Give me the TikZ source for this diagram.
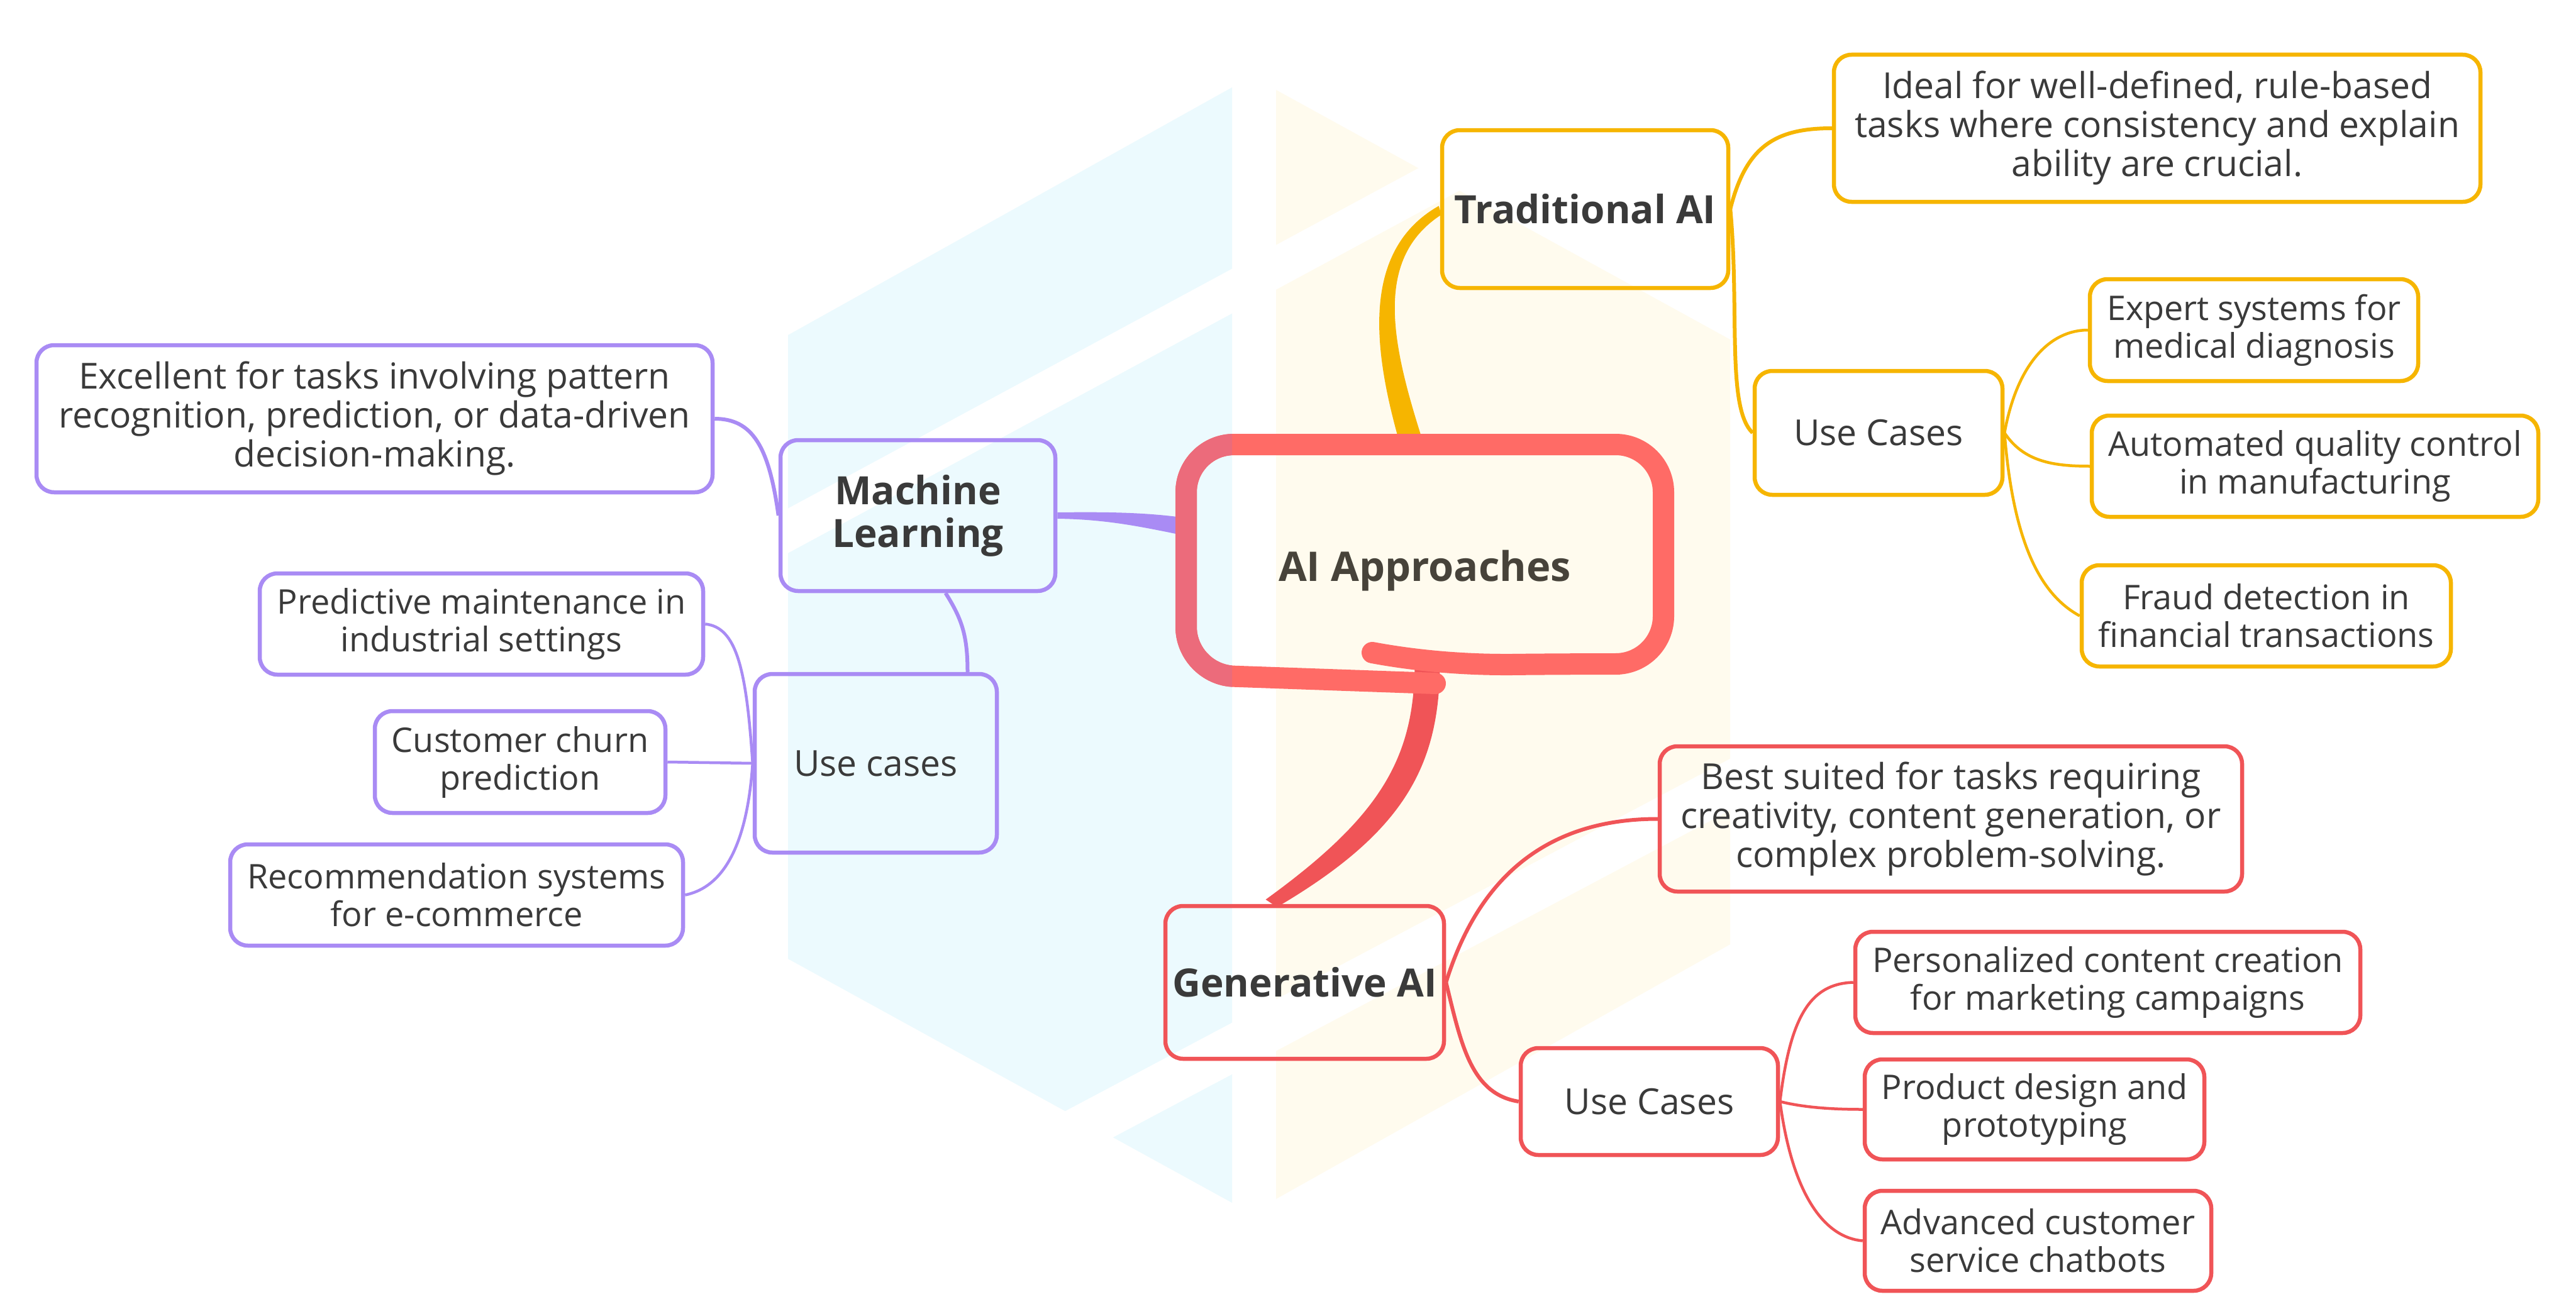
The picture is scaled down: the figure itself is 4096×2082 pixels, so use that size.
\documentclass[tikz,border=0pt]{standalone}
\usepackage{fontspec}
\setmainfont{Open Sans}
\usetikzlibrary{calc}

\definecolor{bgblue}{HTML}{ECFAFE}
\definecolor{bgcream}{HTML}{FFFBEE}
\definecolor{aiyellow}{HTML}{F6B500}
\definecolor{aipurple}{HTML}{A98BF4}
\definecolor{aired}{HTML}{F05457}
\definecolor{rootred}{HTML}{FF6B66}
\definecolor{rootpink}{HTML}{EC6B7B}
\definecolor{ink}{HTML}{3A3A3A}
\definecolor{rootink}{HTML}{47433A}

\begin{document}
\begin{tikzpicture}[x=0.5pt, y=-0.5pt,
    box/.style={draw, rounded corners=14pt, line width=3.25pt, align=center, inner sep=0pt, text=ink},
    topic/.style={box, font=\fontsize{31}{34}\selectfont\bfseries},
    sub/.style={box, font=\fontsize{28.5}{31}\selectfont},
    leaf/.style={box, font=\fontsize{27}{30}\selectfont},
    branch/.style={line width=3pt},
    twig/.style={line width=2.25pt}]
      \useasboundingbox (0,0) rectangle (4096,2082);
      \fill[white] (0,0) rectangle (4096,2082);
      %
      % background hexagon
      \fill[bgblue] (1253,533) -- (1959,139) -- (1959,1913) -- (1253,1525) -- cycle;    % left half
      \fill[bgcream] (2029,143) -- (2751,540) -- (2751,1502) -- (2029,1907) -- cycle;   % right half
      \fill[white] (1245,813) -- (2760,-5) -- (2760,66) -- (1245,884) -- cycle;         % upper stripe
      \fill[white] (1600,1817) -- (2760,1202) -- (2760,1284) -- (1600,1899) -- cycle;   % lower stripe
      %
      \node[font=\fontsize{32.5}{36}\selectfont\bfseries, text=rootink, inner sep=0pt,
            minimum width=379.5pt, minimum height=184pt] (root) at (2265.5,908) {AI Approaches};
      %
      \node[topic, draw=aiyellow, minimum width=227.5pt, minimum height=125.5pt] (trad) at (2520.5,332.5) {Traditional AI};
      \node[topic, draw=aipurple, minimum width=218.5pt, minimum height=120pt] (ml) at (1459.5,820) {Machine\\Learning};
      \node[topic, draw=aired, minimum width=221.5pt, minimum height=121.5pt] (gen) at (2074.5,1562.5) {Generative AI};
      %
      % main branches
      \fill[aiyellow] ($(root.north)+(-38,-12)$) .. controls (2185,565) and (2160,400) .. ($(trad.west)+(-2,-5)$)
            -- ($(trad.west)+(2,9)$) .. controls (2180,414) and (2215,555) .. ($(root.north)+(0,-12)$) -- cycle;
      \fill[aired] ($(root.south)+(24,-42)$) .. controls (2290,1215) and (2236,1322) .. ($(gen.north)+(-44,5)$)
            -- ($(gen.north)+(-62,-7)$) .. controls (2196,1298) and (2250,1205) .. ($(root.south)+(-16,-42)$) -- cycle;
      \fill[aipurple] ($(ml.east)+(0,-5)$) .. controls (1760,814) and (1820,815) .. ($(root.west)+(-6,-85)$)
            -- ($(root.west)+(-6,-57)$) .. controls (1815,838) and (1760,826) .. ($(ml.east)+(0,5)$) -- cycle;
      %
      % central outline, drawn by hand
      \draw[rootred, line width=17pt, line cap=round, rounded corners=38pt]
            (2282,1087) -- (1886,1073) -- (1886,707) -- (2645,707) -- (2645,1056) -- (2500,1056)
            .. controls (2400,1057) and (2300,1060) .. (2182,1038);
      \begin{scope}
        \clip (1800,600) rectangle (1959,1200);
        \draw[rootpink, line width=17pt, line cap=round, rounded corners=38pt]
              (2282,1087) -- (1886,1073) -- (1886,707) -- (2645,707);
      \end{scope}
      %
      % Traditional AI
      \node[sub, draw=aiyellow, minimum width=514pt, minimum height=117pt] (tradDef) at (3430,204)
            {Ideal for well-defined, rule-based\\tasks where consistency and explain\\ability are crucial.};
      \node[sub, draw=aiyellow, minimum width=197pt, minimum height=98.5pt] (tradUse) at (2987,688.5) {Use Cases};
      \node[leaf, draw=aiyellow, minimum width=261pt, minimum height=81pt] (expert) at (3584,525) {Expert systems for\\medical diagnosis};
      \node[leaf, draw=aiyellow, minimum width=355pt, minimum height=80.5pt] (autoQC) at (3681,741.5) {Automated quality control\\in manufacturing};
      \node[leaf, draw=aiyellow, minimum width=293.5pt, minimum height=80.5pt] (fraud) at (3603.5,979.5) {Fraud detection in\\financial transactions};
      %
      \draw[branch, aiyellow] (trad.east) .. controls +(25,-100) and +(-90,0) .. (tradDef.west);
      \draw[branch, aiyellow] (trad.east) .. controls +(15,160) and +(-42,-40) .. (tradUse.west);
      \draw[twig, aiyellow] (tradUse.east) .. controls +(20,-110) and +(-60,0) .. (expert.west);
      \draw[twig, aiyellow] (tradUse.east) .. controls +(30,45) and +(-60,0) .. (autoQC.west);
      \draw[twig, aiyellow] (tradUse.east) .. controls +(15,190) and +(-55,-30) .. (fraud.west);
      %
      % Machine Learning
      \node[sub, draw=aipurple, minimum width=537.5pt, minimum height=117pt] (mlDef) at (595.5,666)
            {Excellent for tasks involving pattern\\recognition, prediction, or data-driven\\decision-making.};
      \node[sub, draw=aipurple, minimum width=192.5pt, minimum height=142pt] (mlUse) at (1392.5,1214) {Use cases};
      \node[leaf, draw=aipurple, minimum width=352.5pt, minimum height=80.5pt] (predict) at (765.5,992.5) {Predictive maintenance in\\industrial settings};
      \node[leaf, draw=aipurple, minimum width=231pt, minimum height=81pt] (churn) at (827,1212) {Customer churn\\prediction};
      \node[leaf, draw=aipurple, minimum width=360pt, minimum height=80.5pt] (recomm) at (726,1423.5) {Recommendation systems\\for e-commerce};
      %
      \draw[branch, aipurple] (ml.west) .. controls +(-15,-110) and +(60,0) .. (mlDef.east);
      \draw[branch, aipurple] ($(ml.south)+(44,0)$) .. controls +(25,40) and +(0,-60) .. ($(mlUse.north)+(146,0)$);
      \draw[twig, aipurple] (mlUse.west) .. controls +(-10,-150) and +(50,5) .. (predict.east);
      \draw[twig, aipurple] (mlUse.west) -- (churn.east);
      \draw[twig, aipurple] (mlUse.west) .. controls +(-10,150) and +(50,-10) .. (recomm.east);
      %
      % Generative AI
      \node[sub, draw=aired, minimum width=463pt, minimum height=115.5pt] (genDef) at (3102,1302.5)
            {Best suited for tasks requiring\\creativity, content generation, or\\complex problem-solving.};
      \node[sub, draw=aired, minimum width=204.5pt, minimum height=85pt] (genUse) at (2622.5,1752) {Use Cases};
      \node[leaf, draw=aired, minimum width=401.5pt, minimum height=80.5pt] (personal) at (3351.5,1562.5) {Personalized content creation\\for marketing campaigns};
      \node[leaf, draw=aired, minimum width=270pt, minimum height=79.5pt] (product) at (3235,1764.5) {Product design and\\prototyping};
      \node[leaf, draw=aired, minimum width=275.5pt, minimum height=79.5pt] (advanced) at (3240.5,1973.5) {Advanced customer\\service chatbots};
      %
      \draw[branch, aired] (gen.east) .. controls +(44,-142) and +(-199,0) .. (genDef.west);
      \draw[branch, aired] (gen.east) .. controls +(24,98) and +(-76,-12) .. (genUse.west);
      \draw[twig, aired] (genUse.east) .. controls +(16,-132) and +(-70,2) .. (personal.west);
      \draw[twig, aired] (genUse.east) .. controls +(40,10) and +(-45,0) .. (product.west);
      \draw[twig, aired] (genUse.east) .. controls +(20,150) and +(-60,-5) .. (advanced.west);
      %
    \end{tikzpicture}
\end{document}
